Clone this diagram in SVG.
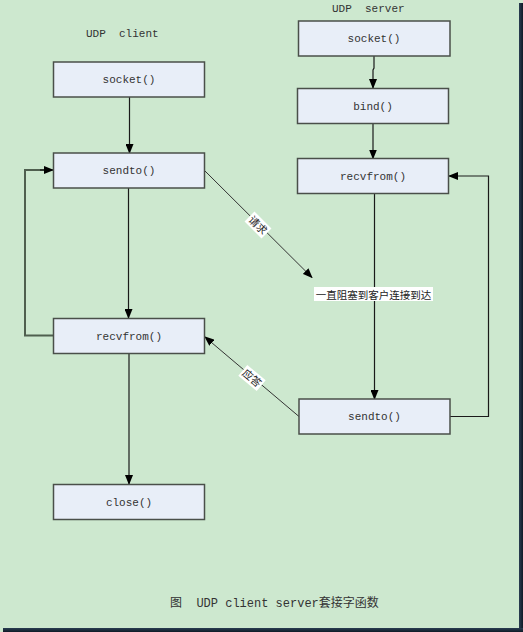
<svg xmlns="http://www.w3.org/2000/svg" width="523" height="632" viewBox="0 0 523 632">
<defs>
<style>
.box{fill:#e8eef8;stroke:#4a4f4a;stroke-width:1.5}
.lbl{font-family:"Liberation Mono","Noto Sans CJK SC",monospace;font-size:11px;fill:#333;text-anchor:middle}
.hdr{font-family:"Liberation Mono","Noto Sans CJK SC",monospace;font-size:11px;fill:#333}
.cjk{font-family:"Noto Sans CJK SC",sans-serif;font-size:10.5px;fill:#222;text-anchor:middle}
.ln{fill:none;stroke:#1a1a1a;stroke-width:1.2}
.lp{fill:none;stroke:#4f5f4f;stroke-width:2}
.dg{fill:none;stroke:#333;stroke-width:1}
</style>
<marker id="ah" markerWidth="10" markerHeight="8" refX="9" refY="4" orient="auto" markerUnits="userSpaceOnUse">
<path d="M0,0 L10,4 L0,8 Z" fill="#000"/>
</marker>
<linearGradient id="sr" x1="0" y1="0" x2="1" y2="0">
<stop offset="0" stop-color="#2a3e52"/><stop offset="1" stop-color="#0e1a26"/>
</linearGradient>
<linearGradient id="sb" x1="0" y1="0" x2="0" y2="1">
<stop offset="0" stop-color="#2a3e52"/><stop offset="1" stop-color="#0e1a26"/>
</linearGradient>
</defs>
<rect x="0" y="0" width="523" height="632" fill="#cde8cf"/>
<rect x="519" y="3" width="4" height="629" fill="url(#sr)"/>
<rect x="3" y="628" width="520" height="4" fill="url(#sb)"/>

<text class="hdr" x="86" y="37" xml:space="preserve">UDP  client</text>
<text class="hdr" x="332" y="12" xml:space="preserve">UDP  server</text>

<g id="connectors">
<line class="ln" x1="129.5" y1="97" x2="129.5" y2="153" marker-end="url(#ah)"/>
<line class="ln" x1="128.5" y1="188" x2="128.5" y2="318" marker-end="url(#ah)"/>
<line class="ln" x1="129" y1="353" x2="129" y2="484" marker-end="url(#ah)"/>
<polyline class="lp" points="53,335.5 25,335.5 25,170 44,170"/>
<line class="ln" x1="40" y1="170" x2="53" y2="170" marker-end="url(#ah)"/>
<polyline class="ln" points="374,56 374,68 373,70 373,88" marker-end="url(#ah)"/>
<line class="ln" x1="373" y1="123" x2="373" y2="158.5" marker-end="url(#ah)"/>
<line class="ln" x1="374.5" y1="193" x2="374.5" y2="399" marker-end="url(#ah)"/>
<polyline class="ln" points="450,416.5 488.5,416.5 488.5,176 449,176" marker-end="url(#ah)"/>
<line class="dg" x1="205" y1="171" x2="312" y2="277.5" marker-end="url(#ah)"/>
<line class="dg" x1="299" y1="416.5" x2="205" y2="337" marker-end="url(#ah)"/>
<rect x="314" y="287" width="119" height="14" fill="#fff"/>
<text class="cjk" x="373.5" y="298.5">一直阻塞到客户连接到达</text>
<g transform="translate(258,225) rotate(45)">
<rect x="-12" y="-7" width="24" height="14" fill="#fff"/>
<text class="cjk" x="0" y="4">请求</text>
</g>
<g transform="translate(252,378) rotate(40)">
<rect x="-12" y="-7" width="24" height="14" fill="#fff"/>
<text class="cjk" x="0" y="4">应答</text>
</g>
</g>

<g id="c_socket"><rect class="box" x="53.5" y="62" width="151" height="35"/><text class="lbl" x="129" y="83">socket()</text></g>
<g id="c_sendto"><rect class="box" x="53.5" y="153" width="151" height="35"/><text class="lbl" x="129" y="174">sendto()</text></g>
<g id="c_recvfrom"><rect class="box" x="53.5" y="318.5" width="151" height="35"/><text class="lbl" x="129" y="339.5">recvfrom()</text></g>
<g id="c_close"><rect class="box" x="53.5" y="484.5" width="151" height="35"/><text class="lbl" x="129" y="505.5">close()</text></g>

<g id="s_socket"><rect class="box" x="298.5" y="21" width="151.5" height="35"/><text class="lbl" x="374" y="42">socket()</text></g>
<g id="s_bind"><rect class="box" x="297.5" y="88.5" width="151" height="35"/><text class="lbl" x="373" y="109.5">bind()</text></g>
<g id="s_recvfrom"><rect class="box" x="297.5" y="158.5" width="151" height="35"/><text class="lbl" x="373" y="179.5">recvfrom()</text></g>
<g id="s_sendto"><rect class="box" x="299" y="399" width="151" height="35"/><text class="lbl" x="374.5" y="420">sendto()</text></g>

<text x="170" y="607" xml:space="preserve" style="font-family:'Liberation Mono','Noto Sans CJK SC',monospace;font-size:12px;fill:#333">图  UDP client server套接字函数</text>
</svg>
